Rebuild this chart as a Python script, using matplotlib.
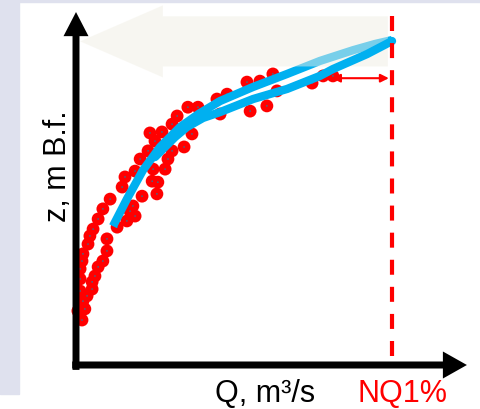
import matplotlib.pyplot as plt
from matplotlib.patches import FancyArrow, Rectangle

plt.rcParams['font.family'] = ['Liberation Sans', 'DejaVu Sans']

# pontos medidos (Q, z) - escala relativa, NQ1% = 100
q_obs = [62.3, 58.2, 54.1, 47.8, 44.6, 38.6, 35.4, 32.0, 30.4, 27.2,
         23.4, 25.0, 22.8, 20.3, 18.7, 15.5, 14.6, 10.8, 8.5, 7.0,
         5.4, 4.4, 3.8, 2.2, 1.9, 1.3, 1.3, 1.3, 2.2, 0.6,
         1.9, 2.8, 3.5, 5.1, 5.1, 6.0, 7.0, 8.5, 9.8, 9.8,
         13.0, 16.1, 18.7, 18.0, 17.1, 20.9, 25.6, 25.9, 24.1, 24.4,
         28.2, 29.1, 30.4, 34.2, 36.7, 45.6, 55.1, 60.4, 63.6, 74.7,
         78.2, 81.3]
z_obs = [89.6, 87.4, 87.1, 83.4, 81.9, 79.4, 79.4, 76.7, 74.2, 71.8,
         71.5, 69.0, 66.0, 63.5, 59.8, 58.0, 54.9, 51.2, 48.2, 45.1,
         42.0, 39.9, 37.4, 34.4, 32.2, 29.8, 26.7, 23.0, 19.9, 16.9,
         14.1, 17.5, 21.5, 23.6, 25.8, 27.6, 30.4, 32.2, 35.3, 39.0,
         42.6, 44.5, 46.0, 49.1, 47.5, 52.1, 52.8, 56.4, 56.7, 60.4,
         60.4, 63.5, 66.0, 67.2, 71.2, 77.3, 78.2, 79.8, 84.4, 86.8,
         89.0, 89.0]

# curva de histerese: ramo de subida e ramo de descida
q_rise = [11.7, 16.1, 21.2, 26.6, 32.9, 39.2, 45.6, 56.0, 66.8, 77.2, 87.7, 94.6, 100.0]
z_rise = [42.9, 51.2, 60.1, 67.2, 73.3, 77.6, 81.3, 85.6, 89.6, 93.6, 96.9, 98.8, 100.0]
q_fall = [100.0, 92.1, 81.3, 77.2, 66.8, 56.0, 45.6, 40.2, 35.1, 31.3, 28.2, 25.0]
z_fall = [99.7, 95.7, 91.1, 89.0, 85.0, 81.9, 77.9, 76.1, 73.3, 70.2, 67.2, 64.1]

q_nq1 = 100
x_label = 'Q, m³/s'
y_label = 'z, m B.f.'
nq_label = 'NQ1%'

fig = plt.figure(figsize=(4.81, 4.10), dpi=100)
fig.patch.set_facecolor('white')
# fundo lilás à esquerda e no topo
fig.patches.append(Rectangle((0, 15 / 410), 19 / 481, 1, transform=fig.transFigure,
                             color='#dfe1ee', zorder=0))
fig.patches.append(Rectangle((0, 407 / 410), 1, 3 / 410, transform=fig.transFigure,
                             color='#dfe1ee', zorder=0))

ax = fig.add_axes([0, 0, 1, 1])
ax.set_xlim(-24.05, 128.16)
ax.set_ylim(-13.2, 112.6)
ax.axis('off')

# pontos
ax.scatter(q_obs, z_obs, s=85, color='#ff0000', edgecolors='none', zorder=2)
ax.scatter(q_obs, z_obs, s=1.5, color='#3c6e8c', edgecolors='none', zorder=2.1)

# ramo de subida (fica por baixo da seta clara)
ax.plot(q_rise, z_rise, color='#00b0f0', lw=6, solid_capstyle='butt',
        solid_joinstyle='round', zorder=3)

# seta clara no topo
ax.add_patch(FancyArrow(98.7, 99.6, -97.4, 0, width=15.4, head_width=22.1,
                        head_length=26.2, length_includes_head=True,
                        color='#f1efe5', alpha=0.5, lw=0, zorder=4))

# ramo de descida
ax.plot(q_fall, z_fall, color='#00b0f0', lw=6, solid_capstyle='round',
        solid_joinstyle='round', zorder=5)

# linha NQ1%
ax.plot([q_nq1, q_nq1], [107.5, 0], color='#ff0000', lw=3, dashes=(3.6, 2.9), zorder=6)
ax.annotate('', xy=(99.0, 88.3), xytext=(81.0, 88.3),
            arrowprops=dict(arrowstyle='<|-|>', color='#ff0000', lw=1.5,
                            shrinkA=0, shrinkB=0, mutation_scale=12), zorder=6)

# eixos com setas
ax.add_patch(FancyArrow(0, -1.2, 0, 109.8, width=2.2, head_width=7.9, head_length=7.4,
                        length_includes_head=True, color='black', lw=0, zorder=7))
ax.add_patch(FancyArrow(-1.2, 0.3, 124.9, 0, width=2.15, head_width=8.3, head_length=7.6,
                        length_includes_head=True, color='black', lw=0, zorder=7))

ax.text(-5.7, 61.7, y_label, rotation=90, ha='center', va='center', fontsize=22)
ax.text(59.8, -10.8, x_label, ha='center', va='baseline', fontsize=22)
ax.text(103.2, -10.8, nq_label, color='#ff0000', ha='center', va='baseline', fontsize=22)

fig.savefig('out.png', dpi=100)
